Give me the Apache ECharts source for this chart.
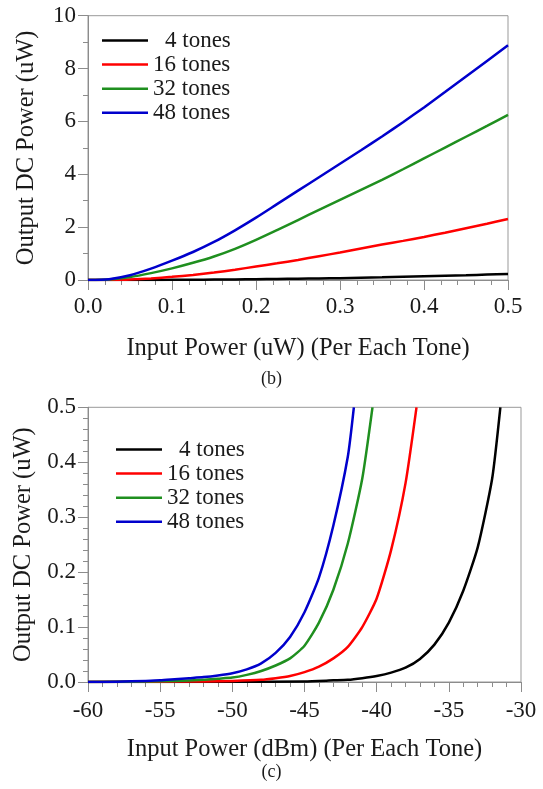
<!DOCTYPE html>
<html>
<head>
<meta charset="utf-8">
<script src="https://cdn.jsdelivr.net/npm/echarts@6/dist/echarts.min.js"></script>
<style>html,body{margin:0;padding:0;background:#fff;}#c{width:543px;height:789px;}</style>
</head>
<body>
<div id="c"></div>
<script>
// ---- Data: chart (b) Input power (uW) vs output DC power (uW)
var seriesNames = ['4 tones', '16 tones', '32 tones', '48 tones'];
var bX  = [0, 0.025, 0.05, 0.075, 0.1, 0.125, 0.15, 0.175, 0.2, 0.225, 0.25, 0.275, 0.3, 0.325, 0.35, 0.375, 0.4, 0.425, 0.45, 0.475, 0.5];
var b4  = [0, 0, 0.001, 0.002, 0.005, 0.01, 0.015, 0.022, 0.03, 0.04, 0.05, 0.06, 0.07, 0.085, 0.10, 0.12, 0.14, 0.16, 0.18, 0.205, 0.23];
var b16 = [0, 0.003, 0.02, 0.06, 0.12, 0.19, 0.28, 0.39, 0.51, 0.63, 0.76, 0.90, 1.04, 1.19, 1.34, 1.48, 1.63, 1.79, 1.96, 2.13, 2.31];
var b32 = [0, 0.02, 0.11, 0.26, 0.44, 0.65, 0.89, 1.18, 1.52, 1.89, 2.27, 2.65, 3.03, 3.41, 3.79, 4.19, 4.60, 5.01, 5.42, 5.83, 6.25];
var b48 = [0, 0.03, 0.18, 0.43, 0.73, 1.06, 1.44, 1.88, 2.36, 2.87, 3.38, 3.89, 4.40, 4.91, 5.43, 5.97, 6.53, 7.11, 7.70, 8.29, 8.88];

// ---- Data: chart (c) Input power (dBm) vs output DC power (uW)
var c4x  = [-60, -50, -45, -43, -42, -41, -40, -39, -38, -37, -36, -35, -34, -33, -32, -31.43];
var c4y  = [0, 0.0003, 0.001, 0.003, 0.004, 0.007, 0.011, 0.017, 0.026, 0.042, 0.068, 0.108, 0.166, 0.245, 0.37, 0.5];
var c16x = [-60, -55, -52, -50, -48, -47, -46, -45, -44, -43, -42, -41, -40, -39, -38, -37.24];
var c16y = [0, 0.0005, 0.001, 0.002, 0.004, 0.007, 0.011, 0.018, 0.028, 0.043, 0.064, 0.10, 0.152, 0.24, 0.362, 0.5];
var c32x = [-60, -56, -54, -52, -51, -50, -49, -48, -47, -46, -45, -44, -43, -42, -41, -40.29];
var c32y = [0, 0.001, 0.002, 0.004, 0.006, 0.008, 0.013, 0.02, 0.03, 0.043, 0.066, 0.108, 0.168, 0.252, 0.37, 0.5];
var c48x = [-60, -58, -56, -55, -54, -53, -52, -51, -50, -49, -48, -47, -46, -45, -44, -43, -42, -41.58];
var c48y = [0, 0.0005, 0.002, 0.003, 0.005, 0.007, 0.009, 0.012, 0.016, 0.023, 0.034, 0.053, 0.082, 0.127, 0.19, 0.285, 0.41, 0.5];

var colors = ['#000000', '#ff0000', '#1f8f1f', '#0000cc'];
var FONT = '"Liberation Serif", "Times New Roman", serif';

function zip(xs, ys) { return xs.map(function (x, i) { return [x, ys[i]]; }); }

var chart = echarts.init(document.getElementById('c'), null, {renderer: 'canvas'});

var axisGray = '#8c8c8c';
var txt = '#1a1a1a';
function xAx(grid, min, max, interval, fmt, name, gap, margin) {
  return {
    type: 'value', gridIndex: grid, min: min, max: max, interval: interval,
    axisLine: {show: true, lineStyle: {color: axisGray, width: 1}},
    axisTick: {show: true, length: 10, lineStyle: {color: axisGray}},
    minorTick: {show: true, splitNumber: 5, length: 5, lineStyle: {color: axisGray}},
    splitLine: {show: false},
    axisLabel: {color: txt, fontFamily: FONT, fontSize: 23, margin: margin, formatter: fmt},
    name: name, nameLocation: 'middle', nameGap: gap,
    nameTextStyle: {color: txt, fontFamily: FONT, fontSize: 24.5}
  };
}
function yAx(grid, min, max, interval, minorSplit, fmt, name, gap) {
  return {
    type: 'value', gridIndex: grid, min: min, max: max, interval: interval,
    axisLine: {show: true, lineStyle: {color: axisGray, width: 1}},
    axisTick: {show: true, length: 10, lineStyle: {color: axisGray}},
    minorTick: {show: true, splitNumber: minorSplit, length: 5, lineStyle: {color: axisGray}},
    splitLine: {show: false},
    axisLabel: {color: txt, fontFamily: FONT, fontSize: 23, margin: 12, formatter: fmt},
    name: name, nameLocation: 'middle', nameGap: gap, nameRotate: 90,
    nameTextStyle: {color: txt, fontFamily: FONT, fontSize: 24.5}
  };
}

var series = [];
var bData = [b4, b16, b32, b48];
var cData = [zip(c4x, c4y), zip(c16x, c16y), zip(c32x, c32y), zip(c48x, c48y)];
for (var i = 0; i < 4; i++) {
  series.push({
    type: 'line', name: seriesNames[i], xAxisIndex: 0, yAxisIndex: 0,
    data: zip(bX, bData[i]), smooth: 0.25, showSymbol: false,
    lineStyle: {color: colors[i], width: 2.5}, itemStyle: {color: colors[i]}, z: 2 + i
  });
}
for (var j = 0; j < 4; j++) {
  series.push({
    type: 'line', name: seriesNames[j], xAxisIndex: 1, yAxisIndex: 1,
    data: cData[j], smooth: 0.2, showSymbol: false,
    lineStyle: {color: colors[j], width: 2.5, join: 'round'}, itemStyle: {color: colors[j]}, z: 2 + j
  });
}

function legendFmt(name) { return name === '4 tones' ? '{p|4 tones}' : name; }
function legend(left, top) {
  return {
    orient: 'vertical', left: left, top: top, data: seriesNames, padding: 0,
    icon: 'rect', itemWidth: 46, itemHeight: 2.5, itemGap: 1.1,
    selectedMode: false,
    formatter: legendFmt,
    textStyle: {color: txt, fontFamily: FONT, fontSize: 23, lineHeight: 21,
      rich: {p: {fontFamily: FONT, fontSize: 23, lineHeight: 21, color: txt, padding: [0, 0, 0, 12]}}}
  };
}

chart.setOption({
  animation: false,
  backgroundColor: '#ffffff',
  grid: [
    {left: 88, top: 15.7, width: 420, height: 264.3, show: true, borderColor: '#999999', borderWidth: 1, containLabel: false},
    {left: 88, top: 407.3, width: 433, height: 274.7, show: true, borderColor: '#999999', borderWidth: 1, containLabel: false}
  ],
  xAxis: [
    xAx(0, 0, 0.5, 0.1, function (v) { return v.toFixed(1); }, 'Input Power (uW) (Per Each Tone)', 56, 15),
    xAx(1, -60, -30, 5, function (v) { return String(Math.round(v)); }, 'Input Power (dBm) (Per Each Tone)', 55, 17)
  ],
  yAxis: [
    yAx(0, 0, 10, 2, 2, function (v) { return String(Math.round(v)); }, 'Output DC Power (uW)', 49),
    yAx(1, 0, 0.5, 0.1, 5, function (v) { return v.toFixed(1); }, 'Output DC Power (uW)', 49)
  ],
  legend: [legend(102, 29), legend(116, 438)],
  series: series,
  graphic: [
    {type: 'text', left: 'center', top: 370, style: {text: '(b)', fontFamily: FONT, fontSize: 18, fill: txt}},
    {type: 'text', left: 'center', top: 763, style: {text: '(c)', fontFamily: FONT, fontSize: 18, fill: txt}}
  ]
});
</script>
</body>
</html>
